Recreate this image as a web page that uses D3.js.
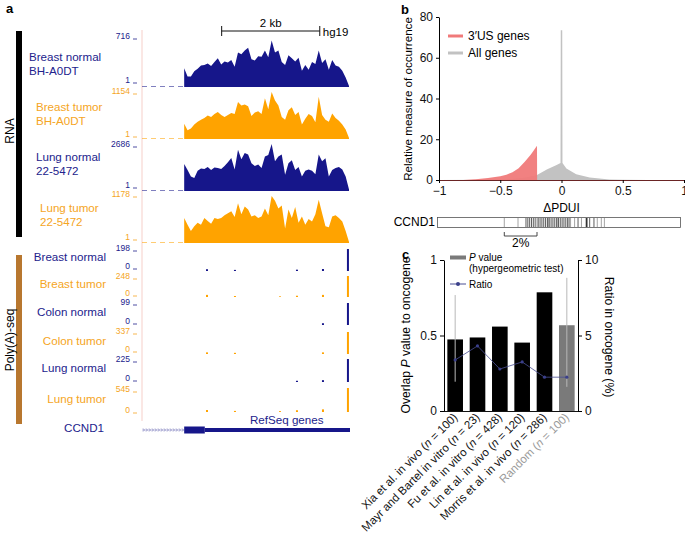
<!DOCTYPE html>
<html>
<head>
<meta charset="utf-8">
<script src="https://cdn.jsdelivr.net/npm/d3@7"></script>
<style>
body { margin: 0; background: #fff; }
svg { display: block; font-family: "Liberation Sans", Arial, sans-serif; }
</style>
</head>
<body>
<svg id="fig" width="685" height="539"></svg>
<script>
// ---------- data ----------
// Panel a: RNA-seq coverage over the last CCND1 exon (% of each track's maximum), evenly spaced bins
const rnaBreastNormal = [39, 22, 22, 33, 38, 45, 46, 49, 44, 52, 60, 47, 53, 51, 56, 42, 72, 68, 76, 82,
	58, 55, 64, 63, 76, 62, 97, 72, 76, 52, 46, 66, 60, 53, 61, 34, 46, 36, 52, 48,
	76, 50, 58, 36, 56, 45, 42, 34, 20, 2];
const rnaBreastTumor = [32, 18, 22, 30, 36, 40, 44, 49, 46, 52, 56, 50, 46, 50, 54, 52, 77, 70, 72, 68,
	48, 55, 58, 52, 85, 62, 98, 80, 70, 46, 40, 60, 66, 50, 56, 30, 42, 52, 48, 35,
	88, 50, 40, 36, 53, 44, 38, 30, 20, 2];
const rnaLungNormal = [56, 44, 30, 27, 42, 47, 46, 50, 44, 49, 48, 46, 52, 60, 69, 45, 86, 66, 79, 76,
	58, 52, 55, 48, 72, 75, 98, 62, 72, 76, 34, 58, 64, 44, 50, 30, 42, 45, 42, 35,
	76, 62, 68, 30, 44, 48, 50, 45, 30, 3];
const rnaLungTumor = [52, 38, 25, 35, 42, 38, 52, 46, 40, 52, 50, 52, 58, 62, 66, 54, 83, 60, 76, 70,
	55, 58, 52, 55, 72, 58, 98, 88, 72, 78, 30, 70, 52, 75, 42, 55, 38, 50, 45, 60,
	90, 62, 35, 33, 55, 58, 52, 45, 25, 2];
const rnaNames = [['Breast normal', 'BH-A0DT'], ['Breast tumor', 'BH-A0DT'], ['Lung normal', '22-5472'], ['Lung tumor', '22-5472']];
const rnaMaxLabels = ['716', '1154', '2686', '1178'];
const rnaMinLabels = ['1', '1', '1', '1'];

// Poly(A)-seq read counts at the cleavage sites (bp from the window start)
const polyaSitesBp = [1325, 1895, 2813, 3159, 3689, 4198];
const polyaBreastNormal = [16, 10, 0, 12, 18, 198];
const polyaBreastTumor = [25, 12, 8, 15, 25, 248];
const polyaColonNormal = [0, 0, 0, 0, 8, 99];
const polyaColonTumor = [25, 18, 0, 0, 25, 337];
const polyaLungNormal = [0, 0, 0, 12, 18, 225];
const polyaLungTumor = [45, 25, 20, 40, 60, 545];
const polyaNames = ['Breast normal', 'Breast tumor', 'Colon normal', 'Colon tumor', 'Lung normal', 'Lung tumor'];
const polyaMax = [198, 248, 99, 337, 225, 545];

// Panel b: density of ΔPDUI
const allGenesX = [-1, -0.6, -0.5, -0.4, -0.3, -0.2, -0.12, -0.04, -0.008, -0.006, 0.006, 0.008, 0.04, 0.12, 0.23, 0.39, 0.5, 0.7, 1];
const allGenesY = [0, 0.1, 0.3, 0.6, 1.2, 2.5, 5.2, 7.4, 8.3, 73.5, 73.5, 8.3, 5.7, 2.8, 1.2, 0.3, 0.1, 0, 0];
const usGenesX = [-1, -0.8, -0.7, -0.6, -0.5, -0.45, -0.4, -0.35, -0.3, -0.25, -0.2, -0.199, 1];
const usGenesY = [0, 0, 0.4, 1.0, 1.8, 2.6, 3.8, 5.8, 9, 12.5, 16.8, 0, 0];
const ccnd1Black = [-0.29, -0.275, -0.26, -0.245, -0.23, -0.215, -0.19, -0.175, -0.16, -0.145, -0.13, -0.115,
	-0.1, -0.085, -0.07, -0.055, -0.04, -0.025, -0.01, 0.005, 0.02, 0.035, 0.05, 0.062, 0.135, 0.205, 0.23, 0.265];
const ccnd1Gray = [-0.467, -0.355, -0.2, -0.108, -0.03, 0.074, 0.107, 0.163, 0.292, 0.325, 0.35];

// Panel c: overlap with oncogenes
const studies = ['Xia et al. in vivo', 'Mayr and Bartel in vitro', 'Fu et al. in vitro', 'Lin et al. in vivo', 'Morris et al. in vivo', 'Random'];
const studyN = [100, 23, 428, 120, 286, 100];
const pValues = [0.474, 0.487, 0.559, 0.453, 0.786, 0.568];
const pLow = [0.194, null, null, null, null, 0.16];
const pHigh = [0.768, null, null, null, null, 0.882];
const ratios = [3.38, 4.31, 2.78, 3.25, 2.24, 2.24];

// ---------- drawing ----------
const svg = d3.select('#fig');
const navy = '#16168a', orange = '#ffa300';
const navyText = '#22228c', orangeText = '#f5a524';

// panel letters
[['a', 6, 13], ['b', 401, 14], ['c', 402, 259]].forEach(d => {
	svg.append('text').attr('x', d[1]).attr('y', d[2]).attr('font-size', 13)
		.attr('font-weight', 'bold').text(d[0]);
});

// ===== panel a =====
const xa = d3.scaleLinear().domain([0, 4240]).range([142, 350]);
const covStartBp = 860, covEndBp = 4220;
const a = svg.append('g');

// left group bars
a.append('rect').attr('x', 16).attr('y', 31).attr('width', 6).attr('height', 206).attr('fill', '#000');
a.append('rect').attr('x', 16).attr('y', 255).attr('width', 6).attr('height', 169).attr('fill', '#b8772f');
a.append('text').attr('transform', 'translate(14,131) rotate(-90)').attr('text-anchor', 'middle')
	.attr('font-size', 12).text('RNA');
a.append('text').attr('transform', 'translate(14,340) rotate(-90)').attr('text-anchor', 'middle')
	.attr('font-size', 12).text('Poly(A)-seq');

// browser frame edge
a.append('line').attr('x1', 142).attr('x2', 142).attr('y1', 30).attr('y2', 421)
	.attr('stroke', '#f6cfc9').attr('stroke-width', 1);

// scale bar
const sbY = 31;
a.append('path')
	.attr('d', 'M' + xa(1624) + ',' + (sbY - 5) + 'V' + (sbY + 5) + 'M' + xa(1624) + ',' + sbY + 'H' + xa(3624) +
		'M' + xa(3624) + ',' + (sbY - 5) + 'V' + (sbY + 5))
	.attr('stroke', '#111').attr('fill', 'none');
a.append('text').attr('x', xa(2624)).attr('y', 27).attr('text-anchor', 'middle').attr('font-size', 11.5).text('2 kb');
a.append('text').attr('x', xa(3624) + 3).attr('y', 36).attr('font-size', 11.5).text('hg19');

// RNA-seq tracks
const rnaSeries = [rnaBreastNormal, rnaBreastTumor, rnaLungNormal, rnaLungTumor];
const rnaTop = [39, 91, 143, 195], rnaBase = [87, 139, 191, 243];
const rnaLabelX = [29, 36, 36, 40], rnaLabelY = [61, 111, 161, 212];
const rnaMaxY = [39, 94, 147, 197], rnaMinY = [83, 137, 188, 240];
rnaSeries.forEach((vals, t) => {
	const col = t % 2 === 0 ? navy : orange;
	const tcol = t % 2 === 0 ? navyText : orangeText;
	const bin = d3.scaleLinear().domain([0, vals.length - 1]).range([covStartBp, covEndBp]);
	const y = d3.scaleLinear().domain([0, 100]).range([rnaBase[t], rnaTop[t]]);
	// dashed baseline before the exon
	a.append('line').attr('x1', xa(0)).attr('x2', xa(covStartBp)).attr('y1', rnaBase[t] - 0.5).attr('y2', rnaBase[t] - 0.5)
		.attr('stroke', col).attr('stroke-opacity', 0.55).attr('stroke-dasharray', '5,4');
	a.append('path')
		.attr('d', d3.area().x((d, i) => xa(bin(i))).y0(rnaBase[t]).y1(d => y(d))(vals))
		.attr('fill', col);
	a.append('text').attr('x', 130).attr('y', rnaMaxY[t]).attr('text-anchor', 'end')
		.attr('font-size', 8.5).attr('fill', tcol).text(rnaMaxLabels[t]);
	a.append('text').attr('x', 130).attr('y', rnaMinY[t]).attr('text-anchor', 'end')
		.attr('font-size', 8.5).attr('fill', tcol).text(rnaMinLabels[t]);
	[rnaMaxY[t], rnaMinY[t]].forEach(yy => a.append('line').attr('x1', 133).attr('x2', 137)
		.attr('y1', yy).attr('y2', yy).attr('stroke', tcol).attr('stroke-width', 0.8));
	rnaNames[t].forEach((s, k) => a.append('text').attr('x', rnaLabelX[t]).attr('y', rnaLabelY[t] + k * 14)
		.attr('font-size', 11.6).attr('fill', tcol).text(s));
});

// Poly(A)-seq tracks
const polyaSeries = [polyaBreastNormal, polyaBreastTumor, polyaColonNormal, polyaColonTumor, polyaLungNormal, polyaLungTumor];
const polyaTop = [249, 276, 303, 332, 359, 388], polyaBase = [271, 297, 325, 354, 382, 412];
const polyaLabelY = [261, 288, 316, 345, 372, 403];
const polyaMaxY = [251, 279, 305, 334, 362, 392], polyaMinY = [269, 296, 324, 352, 381, 413];
polyaSeries.forEach((vals, t) => {
	const col = t % 2 === 0 ? navy : orange;
	const tcol = t % 2 === 0 ? navyText : orangeText;
	const y = d3.scaleLinear().domain([0, polyaMax[t]]).range([polyaBase[t], polyaTop[t]]);
	a.selectAll(null).data(vals).join('rect')
		.attr('x', (d, i) => xa(polyaSitesBp[i]) - 1).attr('width', 2)
		.attr('y', d => y(d)).attr('height', d => polyaBase[t] - y(d))
		.attr('fill', col);
	a.append('text').attr('x', 130).attr('y', polyaMaxY[t]).attr('text-anchor', 'end')
		.attr('font-size', 8.5).attr('fill', tcol).text(polyaMax[t]);
	a.append('text').attr('x', 130).attr('y', polyaMinY[t]).attr('text-anchor', 'end')
		.attr('font-size', 8.5).attr('fill', tcol).text('0');
	[polyaMaxY[t], polyaMinY[t]].forEach(yy => a.append('line').attr('x1', 133).attr('x2', 137)
		.attr('y1', yy).attr('y2', yy).attr('stroke', tcol).attr('stroke-width', 0.8));
	a.append('text').attr('x', 106).attr('y', polyaLabelY[t]).attr('text-anchor', 'end')
		.attr('font-size', 11.6).attr('fill', tcol).text(polyaNames[t]);
});

// RefSeq gene model
const geneY = 430;
a.append('text').attr('x', 104).attr('y', 432).attr('text-anchor', 'end').attr('font-size', 11.6)
	.attr('fill', navyText).text('CCND1');
a.append('text').attr('x', 250).attr('y', 424).attr('font-size', 11.6).attr('fill', navyText).text('RefSeq genes');
a.append('line').attr('x1', xa(0)).attr('x2', xa(covStartBp)).attr('y1', geneY).attr('y2', geneY)
	.attr('stroke', navy).attr('stroke-opacity', 0.5).attr('stroke-width', 0.6);
d3.range(xa(0) + 2, xa(covStartBp) - 1, 3).forEach(x => {
	a.append('path').attr('d', 'M' + (x - 1) + ',' + (geneY - 1.6) + 'L' + (x + 0.4) + ',' + geneY + 'L' + (x - 1) + ',' + (geneY + 1.6))
		.attr('fill', 'none').attr('stroke', navy).attr('stroke-opacity', 0.6).attr('stroke-width', 0.6);
});
a.append('rect').attr('x', xa(covStartBp)).attr('y', geneY - 3.5).attr('width', xa(1280) - xa(covStartBp)).attr('height', 7).attr('fill', navy);
a.append('rect').attr('x', xa(1280)).attr('y', geneY - 2).attr('width', xa(4240) - xa(1280)).attr('height', 4).attr('fill', navy);

// ===== panel b =====
const xb = d3.scaleLinear().domain([-1, 1]).range([439, 684]);
const yb = d3.scaleLinear().domain([0, 80]).range([180, 17]);
const b = svg.append('g');
const areaB = (xs, ys) => d3.area().x((d, i) => xb(xs[i])).y0(yb(0)).y1(d => yb(d))(ys);
b.append('path').attr('d', areaB(allGenesX, allGenesY)).attr('fill', '#c2c2c2');
b.append('path').attr('d', areaB(usGenesX, usGenesY)).attr('fill', '#f07a7a').attr('fill-opacity', 0.95);
b.append('g').attr('transform', 'translate(0,180)')
	.call(d3.axisBottom(xb).tickValues([-1, -0.5, 0, 0.5, 1]).tickFormat(d3.format('~g')).tickSize(3).tickSizeOuter(0))
	.call(ax => ax.selectAll('text').attr('font-size', 12).attr('fill', '#111').attr('font-family', null))
	.call(ax => ax.select('.domain').attr('stroke', '#6a2424'));
b.append('g').attr('transform', 'translate(439,0)')
	.call(d3.axisLeft(yb).tickValues([0, 20, 40, 60, 80]).tickSize(3).tickSizeOuter(0))
	.call(ax => ax.selectAll('text').attr('font-size', 12).attr('fill', '#111').attr('font-family', null));
b.append('text').attr('transform', 'translate(412,99) rotate(-90)').attr('text-anchor', 'middle')
	.attr('font-size', 11.6).text('Relative measure of occurrence');
b.append('text').attr('x', xb(0)).attr('y', 212).attr('text-anchor', 'middle').attr('font-size', 12).text('ΔPDUI');
// legend
[['3′US genes', '#f07a7a', 36], ['All genes', '#c2c2c2', 53]].forEach(d => {
	b.append('line').attr('x1', 448).attr('x2', 463).attr('y1', d[2]).attr('y2', d[2])
		.attr('stroke', d[1]).attr('stroke-width', 3);
	b.append('text').attr('x', 468).attr('y', d[2] + 4).attr('font-size', 12).text(d[0]);
});
// CCND1 ΔPDUI strip
b.append('text').attr('x', 435).attr('y', 226).attr('text-anchor', 'end').attr('font-size', 12).text('CCND1');
b.append('rect').attr('x', 437.5).attr('y', 217.5).attr('width', 243).attr('height', 10)
	.attr('fill', '#fff').attr('stroke', '#555').attr('stroke-width', 0.8);
b.selectAll(null).data(ccnd1Gray).join('line')
	.attr('x1', d => xb(d)).attr('x2', d => xb(d)).attr('y1', 218).attr('y2', 227)
	.attr('stroke', '#9a9a9a').attr('stroke-width', 0.9);
b.selectAll(null).data(ccnd1Black).join('line')
	.attr('x1', d => xb(d)).attr('x2', d => xb(d)).attr('y1', 218).attr('y2', 227)
	.attr('stroke', '#333').attr('stroke-width', d => d === 0.205 ? 1.8 : 0.8);
b.append('path').attr('d', 'M' + xb(-0.467) + ',232V236H' + xb(-0.2) + 'V232')
	.attr('fill', 'none').attr('stroke', '#333').attr('stroke-width', 0.9);
b.append('text').attr('x', (xb(-0.467) + xb(-0.2)) / 2).attr('y', 247).attr('text-anchor', 'middle')
	.attr('font-size', 12).text('2%');

// ===== panel c =====
const xc = d3.scaleBand().domain(studies).range([444, 578]).paddingInner(0.3).paddingOuter(0.15);
const yc = d3.scaleLinear().domain([0, 1]).range([411, 260]);
const yr = d3.scaleLinear().domain([0, 10]).range([411, 260]);
const c = svg.append('g');
const cx = d => xc(d) + xc.bandwidth() / 2;
c.selectAll(null).data(studies).join('rect')
	.attr('x', d => xc(d)).attr('width', xc.bandwidth())
	.attr('y', (d, i) => yc(pValues[i])).attr('height', (d, i) => yc(0) - yc(pValues[i]))
	.attr('fill', d => d === 'Random' ? '#7a7a7a' : '#000');
studies.forEach((d, i) => {
	if (pLow[i] === null) return;
	c.append('line').attr('x1', cx(d)).attr('x2', cx(d)).attr('y1', yc(pLow[i])).attr('y2', yc(pHigh[i]))
		.attr('stroke', '#b8b8b8').attr('stroke-width', 1);
});
c.append('path').attr('d', d3.line().x((d, i) => cx(studies[i])).y(d => yr(d))(ratios))
	.attr('fill', 'none').attr('stroke', '#4a4f94').attr('stroke-width', 0.8);
c.selectAll(null).data(ratios).join('circle')
	.attr('cx', (d, i) => cx(studies[i])).attr('cy', d => yr(d)).attr('r', 1.6).attr('fill', '#3a3f8a');
c.append('line').attr('x1', 444).attr('x2', 578).attr('y1', 411.5).attr('y2', 411.5).attr('stroke', '#111');
c.append('g').attr('transform', 'translate(444,0)')
	.call(d3.axisLeft(yc).tickValues([0, 0.5, 1]).tickFormat(d3.format('~g')).tickSize(4).tickSizeOuter(0))
	.call(ax => ax.selectAll('text').attr('font-size', 12).attr('fill', '#111').attr('font-family', null));
c.append('g').attr('transform', 'translate(578,0)')
	.call(d3.axisRight(yr).tickValues([0, 5, 10]).tickSize(4).tickSizeOuter(0))
	.call(ax => ax.selectAll('text').attr('font-size', 12).attr('fill', '#111').attr('font-family', null));
const leftTitle = c.append('text').attr('transform', 'translate(410,335) rotate(-90)').attr('text-anchor', 'middle')
	.attr('font-size', 12.2);
leftTitle.append('tspan').text('Overlap ');
leftTitle.append('tspan').attr('font-style', 'italic').text('P');
leftTitle.append('tspan').text(' value to oncogene');
c.append('text').attr('transform', 'translate(605,337) rotate(90)').attr('text-anchor', 'middle')
	.attr('font-size', 12.2).text('Ratio in oncogene (%)');
// x labels
studies.forEach((d, i) => {
	const t = c.append('text').attr('transform', 'translate(' + (cx(d) + 3) + ',418) rotate(-45)')
		.attr('text-anchor', 'end').attr('font-size', 11.5)
		.attr('fill', d === 'Random' ? '#9a9a9a' : '#111');
	t.append('tspan').text(d + ' (');
	t.append('tspan').attr('font-style', 'italic').text('n');
	t.append('tspan').text(' = ' + studyN[i] + ')');
});
// legend
c.append('rect').attr('x', 450).attr('y', 255.5).attr('width', 16).attr('height', 4).attr('fill', '#7a7a7a');
const lp = c.append('text').attr('x', 469).attr('y', 261).attr('font-size', 10);
lp.append('tspan').attr('font-style', 'italic').text('P');
lp.append('tspan').text(' value');
c.append('text').attr('x', 469).attr('y', 272).attr('font-size', 10).text('(hypergeometric test)');
c.append('line').attr('x1', 450).attr('x2', 466).attr('y1', 284).attr('y2', 284).attr('stroke', '#4a4f94').attr('stroke-width', 1);
c.append('circle').attr('cx', 458).attr('cy', 284).attr('r', 2).attr('fill', '#3a3f8a');
c.append('text').attr('x', 469).attr('y', 288).attr('font-size', 10).text('Ratio');
</script>
</body>
</html>
